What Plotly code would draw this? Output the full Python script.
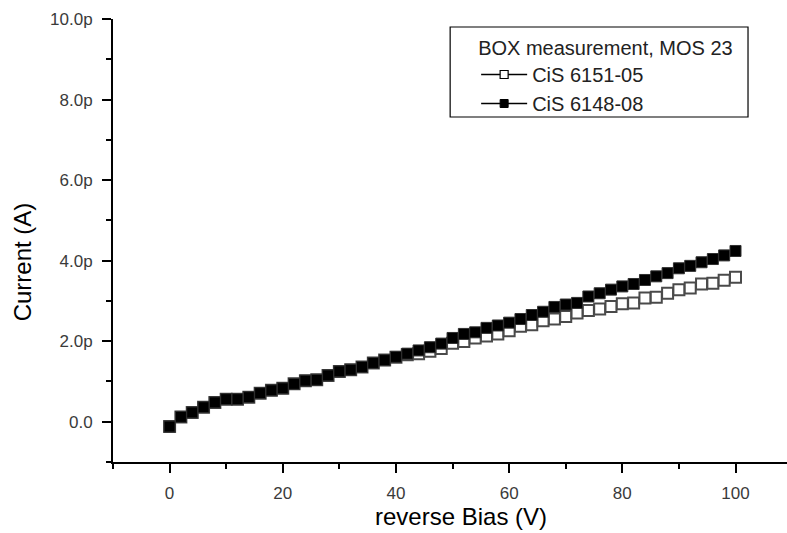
import plotly.graph_objects as go

# Reverse bias sweep (V) and leakage current (pA) for two wafers
bias_v = list(range(0, 101, 2))

current_6148_08 = [
    -0.12, 0.12, 0.23, 0.36, 0.48, 0.56, 0.56, 0.61, 0.71, 0.78,
    0.83, 0.94, 1.02, 1.04, 1.15, 1.25, 1.29, 1.36, 1.46, 1.53,
    1.61, 1.69, 1.77, 1.85, 1.94, 2.08, 2.18, 2.22, 2.33, 2.39,
    2.46, 2.55, 2.65, 2.73, 2.85, 2.91, 2.95, 3.11, 3.19, 3.28,
    3.36, 3.42, 3.52, 3.61, 3.69, 3.81, 3.87, 3.96, 4.04, 4.13,
    4.24,
]

current_6151_05 = [
    -0.12, 0.12, 0.23, 0.36, 0.48, 0.56, 0.56, 0.61, 0.71, 0.78,
    0.83, 0.94, 1.02, 1.04, 1.15, 1.25, 1.29, 1.36, 1.46, 1.53,
    1.60, 1.66, 1.69, 1.75, 1.82, 1.95, 1.99, 2.08, 2.13, 2.18,
    2.26, 2.37, 2.41, 2.51, 2.55, 2.61, 2.70, 2.76, 2.80, 2.86,
    2.93, 2.95, 3.07, 3.09, 3.19, 3.28, 3.32, 3.42, 3.44, 3.51,
    3.59,
]

y_tick_vals = [0, 2, 4, 6, 8, 10]
y_tick_text = ["0.0", "2.0p", "4.0p", "6.0p", "8.0p", "10.0p"]
x_tick_vals = [0, 20, 40, 60, 80, 100]

series_names = ["CiS 6151-05", "CiS 6148-08"]
legend_title = "BOX measurement, MOS 23"

W, H = 787, 533
LEFT, TOP, BOTTOM = 112.7, 19, 462
PW, PH = W - LEFT, BOTTOM - TOP


def px_x(x):
    return (x - LEFT) / PW


def px_y(y):
    return (BOTTOM - y) / PH


FONT = "Liberation Sans, Arial, sans-serif"

open_marker = dict(symbol="square", size=11, color="white",
                   line=dict(color="#4a4a4a", width=2))
filled_marker = dict(symbol="square", size=11, color="black",
                     line=dict(color="#303030", width=1))

fig = go.Figure()

# measured points (open series underneath the filled one)
fig.add_trace(go.Scatter(x=bias_v, y=current_6151_05, mode="markers",
                         marker=open_marker, showlegend=False,
                         cliponaxis=False))
fig.add_trace(go.Scatter(x=bias_v, y=current_6148_08, mode="markers",
                         marker=filled_marker, showlegend=False,
                         cliponaxis=False))

# legend entries drawn as line + symbol
fig.add_trace(go.Scatter(x=[None], y=[None], mode="lines+markers",
                         name=series_names[0],
                         line=dict(color="black", width=1.5),
                         marker=dict(symbol="square", size=8, color="white",
                                     line=dict(color="black", width=1.2))))
fig.add_trace(go.Scatter(x=[None], y=[None], mode="lines+markers",
                         name=series_names[1],
                         line=dict(color="black", width=1.5),
                         marker=dict(symbol="square", size=8, color="black",
                                     line=dict(color="black", width=1))))

axis_common = dict(
    showgrid=False, zeroline=False, showline=True, linecolor="black",
    linewidth=2, ticks="outside", ticklen=9, tickwidth=2, tickcolor="black",
    tickfont=dict(family=FONT, size=17, color="#3a3a3a"),
    ticklabelstandoff=6,
)

fig.update_xaxes(
    range=[-10, 109.1], tickvals=x_tick_vals,
    minor=dict(dtick=10, tick0=0, ticks="outside", ticklen=5,
               tickwidth=2, tickcolor="black"),
    **axis_common,
)
fig.update_yaxes(
    range=[-1, 10], tickvals=y_tick_vals, ticktext=y_tick_text,
    minor=dict(dtick=1, tick0=0, ticks="outside", ticklen=5,
               tickwidth=2, tickcolor="black"),
    **axis_common,
)

fig.update_layout(
    width=W, height=H,
    margin=dict(l=LEFT, r=0, t=TOP, b=H - BOTTOM, pad=0, autoexpand=False),
    paper_bgcolor="white", plot_bgcolor="white",
    showlegend=True,
    legend=dict(
        x=px_x(476), y=px_y(29), xanchor="left", yanchor="top",
        bgcolor="rgba(0,0,0,0)", borderwidth=0,
        font=dict(family=FONT, size=20, color="#222222"),
        title=dict(text=legend_title, side="top",
                   font=dict(family=FONT, size=20, color="#222222")),
        itemwidth=46, tracegroupgap=0,
    ),
    shapes=[
        # legend frame
        dict(type="rect", xref="paper", yref="paper",
             x0=px_x(450), x1=px_x(748), y0=px_y(117), y1=px_y(27),
             line=dict(color="black", width=1.2), fillcolor="white",
             layer="below"),
    ],
    annotations=[
        dict(text="Current (A)", xref="paper", yref="paper",
             x=px_x(22), y=px_y(262),
             xanchor="center", yanchor="middle", textangle=-90,
             showarrow=False, font=dict(family=FONT, size=24, color="black")),
        dict(text="reverse Bias (V)", xref="paper", yref="paper",
             x=px_x(461), y=px_y(516),
             xanchor="center", yanchor="middle",
             showarrow=False, font=dict(family=FONT, size=24, color="black")),
    ],
)

fig.write_html("out.html")
